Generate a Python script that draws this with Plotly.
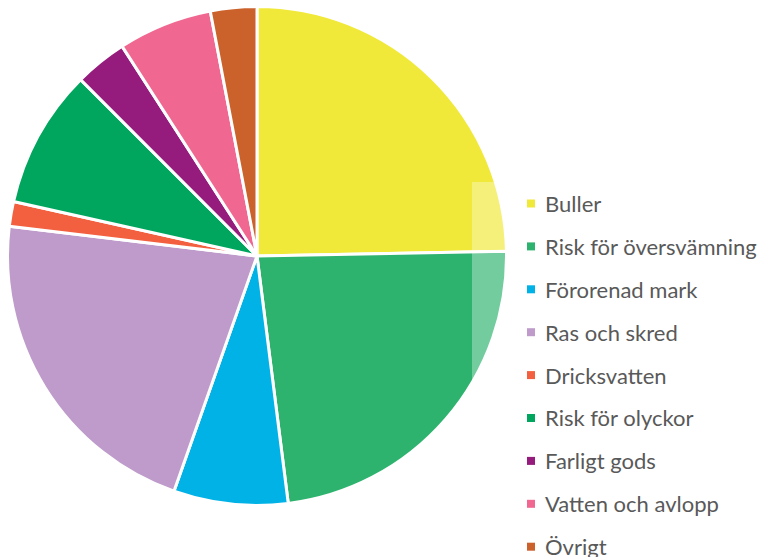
import plotly.graph_objects as go

labels = ["Buller", "Risk för översvämning", "Förorenad mark", "Ras och skred",
          "Dricksvatten", "Risk för olyckor", "Farligt gods", "Vatten och avlopp", "Övrigt"]
values = [24.7, 23.3, 7.4, 21.5, 1.6, 9.0, 3.4, 6.1, 3.0]
colors = ["#F0E93A", "#2EB36E", "#00B2E6", "#BE9BCA", "#F2603F",
          "#00A65E", "#951B7C", "#F06891", "#CB622C"]

W, H = 761, 557

fig = go.Figure(go.Pie(
    labels=labels, values=values, sort=False, direction="clockwise", rotation=0,
    marker=dict(colors=colors, line=dict(color="white", width=3)),
    textinfo="none", hoverinfo="label+percent", showlegend=False,
    domain=dict(x=[7.5 / W, 506.5 / W], y=[(H - 505.5) / H, (H - 6.5) / H]),
))

shapes = [dict(type="rect", xref="paper", yref="paper", layer="above",
               x0=472 / W, x1=1, y0=0, y1=(H - 182) / H,
               fillcolor="rgba(255,255,255,0.33)", line=dict(width=0))]
annotations = []
y_first, step = 203.5, 42.9
for i, (lab, col) in enumerate(zip(labels, colors)):
    yc = y_first + i * step
    shapes.append(dict(type="rect", xref="paper", yref="paper", layer="above",
                       x0=527 / W, x1=535 / W, y0=(H - yc - 4) / H, y1=(H - yc + 4) / H,
                       fillcolor=col, line=dict(width=0)))
    annotations.append(dict(text=lab, xref="paper", yref="paper", x=543 / W, y=(H - yc) / H,
                            xanchor="left", yanchor="middle", showarrow=False,
                            font=dict(family="Lato", size=22, color="#595959")))

fig.update_layout(width=W, height=H, margin=dict(l=0, r=0, t=0, b=0),
                  paper_bgcolor="white", plot_bgcolor="white",
                  shapes=shapes, annotations=annotations)
fig.write_html("out.html", config={"displayModeBar": False},
               post_script="document.body.style.margin='0';document.body.style.padding='0';")
